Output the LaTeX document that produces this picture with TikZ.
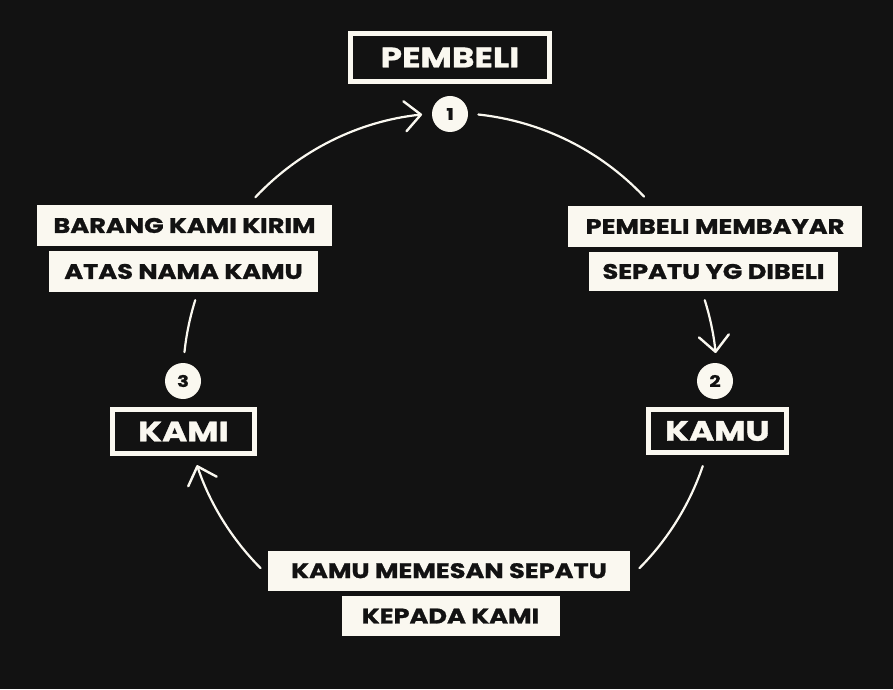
\documentclass[tikz,border=0pt]{standalone}
\usepackage{fontspec}
\setmainfont{Poppins}[FakeStretch=1.22, BoldFeatures={FakeBold=1.2}]
\usetikzlibrary{arrows.meta,calc}
\definecolor{bg}{RGB}{18,18,18}
\definecolor{cream}{RGB}{250,248,240}
\begin{document}
\begin{tikzpicture}[x=1pt,y=1pt,
  lab/.style={fill=cream, text=bg, inner sep=0pt, font=\bfseries\fontsize{21}{21}\selectfont},
  ttl/.style={draw=cream, line width=5pt, text=cream, inner sep=0pt, font=\bfseries\fontsize{28}{28}\selectfont},
  num/.style={circle, fill=cream, text=bg, inner sep=0pt, minimum size=36pt, font=\bfseries\fontsize{16}{16}\selectfont},
  flow/.style={draw=cream, line width=2.2pt, line cap=round},
  tip/.style={-{Straight Barb[length=16pt,width=30pt,line width=2.4pt,round]}}
]
\fill[bg] (0,0) rectangle (893,689);
\useasboundingbox (0,0) rectangle (893,689);
\coordinate (O) at (450,309);

% titles
\node[ttl, minimum width=199pt, minimum height=48pt] (pembeli) at (450,631.5) {PEMBELI};
\node[ttl, minimum width=138pt, minimum height=43pt] (kamu) at (717.5,258) {KAMU};
\node[ttl, minimum width=142pt, minimum height=44pt] (kami) at (183.5,257.5) {KAMI};

% numbers
\node[num] (n1) at (450,575) {1};
\node[num] (n2) at (715,308) {2};
\node[num] (n3) at (183,308) {3};

% labels
\node[lab, minimum width=294pt, minimum height=41pt] (pm1) at (715,462.5) {PEMBELI MEMBAYAR};
\node[lab, minimum width=249pt, minimum height=39pt] (pm2) at (713.5,417.5) {SEPATU YG DIBELI};
\node[lab, minimum width=295pt, minimum height=41pt] (bk1) at (184.5,463.5) {BARANG KAMI KIRIM};
\node[lab, minimum width=269pt, minimum height=41pt] (bk2) at (183.5,417.5) {ATAS NAMA KAMU};
\node[lab, minimum width=362pt, minimum height=40pt] (km1) at (449,118.3) {KAMU MEMESAN SEPATU};
\node[lab, minimum width=218pt, minimum height=40pt] (km2) at (450.5,73) {KEPADA KAMI};

% arc end points
\coordinate (s1) at ($(O)+(83.9:267)$);
\coordinate (s2) at ($(O)+(17.4:267)$);
\coordinate (s3) at ($(O)+(-18.8:267)$);
\coordinate (s4) at ($(O)+(-135.2:267)$);
\coordinate (s5) at ($(O)+(174:267)$);
\coordinate (s6) at ($(O)+(136.8:267)$);

\draw[flow] (s1) arc[start angle=83.9, end angle=43.4, radius=267];
\draw[flow,tip] (s2) arc[start angle=17.4, end angle=5.8, radius=267];
\draw[flow] (s3) arc[start angle=-18.8, end angle=-44.8, radius=267];
\draw[flow,tip] (s4) arc[start angle=-135.2, end angle=-161.4, radius=267];
\draw[flow] (s5) arc[start angle=174, end angle=162.6, radius=267];
\draw[flow,tip] (s6) arc[start angle=136.8, end angle=96, radius=267];
\end{tikzpicture}
\end{document}
